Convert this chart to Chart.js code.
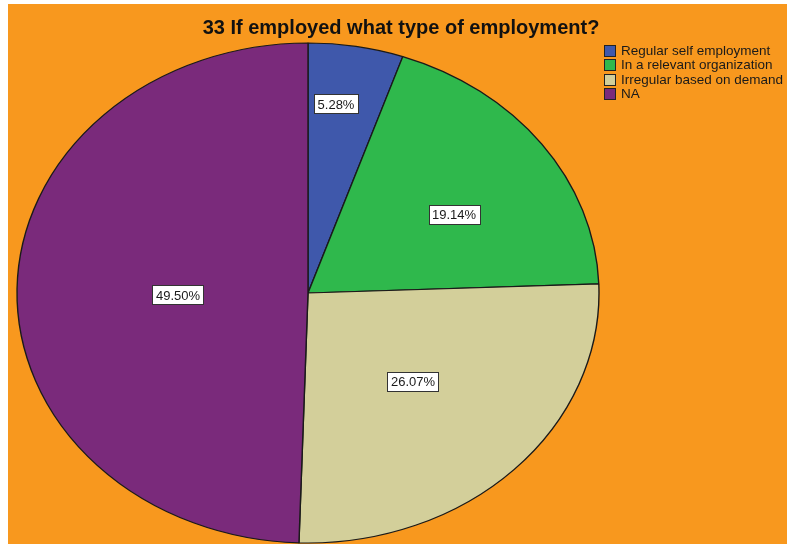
<!DOCTYPE html>
<html lang="en">
<head>
  <meta charset="UTF-8">
  <title>33 If employed what type of employment?</title>
  <script src="https://cdn.jsdelivr.net/npm/chart.js"></script>
  <style>
    html, body { margin: 0; padding: 0; background: #fff; }
    #wrap { width: 787px; height: 544px; }
    canvas { display: block; }
  </style>
</head>
<body>
  <div id="wrap"><canvas id="pie" width="787" height="544"></canvas></div>

  <script>
    // answers and their share of respondents (%)
    const categories = ['Regular self employment', 'In a relevant organization', 'Irregular based on demand', 'NA'];
    const percents = [5.28, 19.14, 26.07, 49.50];
    const chartTitle = '33 If employed what type of employment?';

    const sliceColors = ['#3f58ab', '#2fb84c', '#d3cf9a', '#7a2a7b'];
    const FONT = '"Liberation Sans", Arial, sans-serif';
    const stretchX = 291 / 250;   // pie is drawn as an ellipse

    // white margin + orange panel
    const backdrop = {
      id: 'backdrop',
      beforeDraw(chart) {
        const ctx = chart.ctx;
        ctx.save();
        ctx.fillStyle = '#fff';
        ctx.fillRect(0, 0, chart.width, chart.height);
        ctx.fillStyle = '#f8981e';
        ctx.fillRect(8, 4, chart.width - 8, chart.height - 4);
        ctx.restore();
      }
    };

    // squash the circle into an ellipse around its centre
    const ellipse = {
      id: 'ellipse',
      beforeDatasetsDraw(chart) {
        const arc = chart.getDatasetMeta(0).data[0];
        const ctx = chart.ctx;
        ctx.save();
        ctx.translate(arc.x, arc.y);
        ctx.scale(stretchX, 1);
        ctx.translate(-arc.x, -arc.y);
      },
      afterDatasetsDraw(chart) {
        chart.ctx.restore();
      }
    };

    // boxed percentage labels, title and legend
    const overlay = {
      id: 'overlay',
      afterDraw(chart) {
        const ctx = chart.ctx;
        const place = chart.options.plugins.overlay.place;
        ctx.save();

        ctx.font = '13px ' + FONT;
        ctx.textAlign = 'center';
        ctx.textBaseline = 'middle';
        chart.getDatasetMeta(0).data.forEach((arc, i) => {
          const [f, shift] = place[i];
          const a = (arc.startAngle + arc.endAngle) / 2 + shift * Math.PI / 180;
          const x = arc.x + Math.cos(a) * arc.outerRadius * f * stretchX;
          const y = arc.y + Math.sin(a) * arc.outerRadius * f;
          const txt = percents[i].toFixed(2) + '%';
          const w = Math.round(ctx.measureText(txt).width + 7), h = 19;
          const bx = Math.round(x - w / 2) + 0.5, by = Math.round(y - h / 2) + 0.5;
          ctx.fillStyle = '#fff';
          ctx.fillRect(bx, by, w, h);
          ctx.strokeStyle = '#333';
          ctx.lineWidth = 1;
          ctx.strokeRect(bx, by, w, h);
          ctx.fillStyle = '#1a1a1a';
          ctx.fillText(txt, Math.round(x), Math.round(y) + 1);
        });

        ctx.font = 'bold 20px ' + FONT;
        ctx.fillStyle = '#111';
        ctx.fillText(chartTitle, 401, 28);

        ctx.font = '13.5px ' + FONT;
        ctx.textAlign = 'left';
        categories.forEach((name, i) => {
          const y = 50 + i * 14.5;
          ctx.fillStyle = sliceColors[i];
          ctx.fillRect(604.5, Math.round(y - 5.5) + 0.5, 11, 11);
          ctx.strokeStyle = '#222';
          ctx.strokeRect(604.5, Math.round(y - 5.5) + 0.5, 11, 11);
          ctx.fillStyle = '#1a1a1a';
          ctx.fillText(name, 621, y + 1);
        });
        ctx.restore();
      }
    };

    new Chart(document.getElementById('pie'), {
      type: 'pie',
      data: {
        labels: categories,
        datasets: [{
          data: percents,
          backgroundColor: sliceColors,
          borderColor: '#1a1a1a',
          borderWidth: 1.2,
          radius: 250,
          clip: false
        }]
      },
      options: {
        responsive: false,
        animation: false,
        devicePixelRatio: 1,
        events: [],
        layout: { padding: { left: 58, right: 229, top: 43, bottom: 1 } },
        plugins: {
          legend: { display: false },
          title: { display: false },
          tooltip: { enabled: false },
          // radial fraction and angle nudge (deg) for each label
          overlay: { place: [[0.764, -2.3], [0.594, 4.4], [0.504, -0.5], [0.447, -1.9]] }
        }
      },
      plugins: [backdrop, ellipse, overlay]
    });
  </script>
</body>
</html>
